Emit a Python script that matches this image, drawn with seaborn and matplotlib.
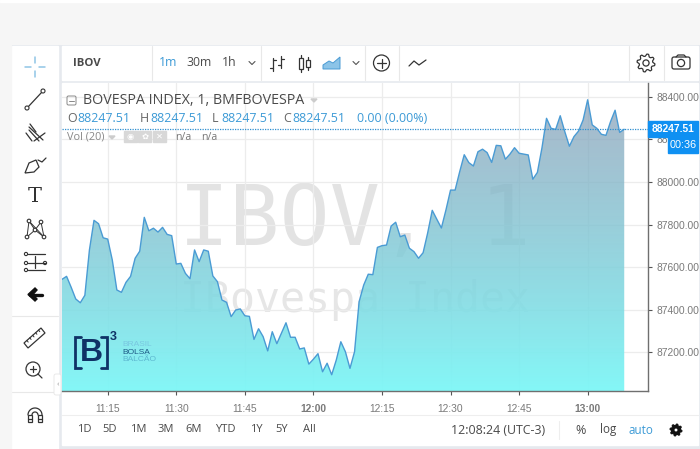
import numpy as np
import pandas as pd
import matplotlib
matplotlib.use("Agg")
import matplotlib.pyplot as plt
import matplotlib.dates as mdates
from matplotlib.patches import Rectangle, Circle, FancyBboxPatch, Polygon
import seaborn as sns

prices = [87543, 87557, 87506, 87451, 87433, 87468, 87681, 87820, 87804, 87738,
          87732, 87634, 87493, 87482, 87529, 87557, 87642, 87675, 87834, 87771,
          87783, 87765, 87787, 87754, 87748, 87615, 87618, 87571, 87546, 87681,
          87626, 87681, 87675, 87559, 87532, 87446, 87435, 87368, 87399, 87404,
          87372, 87369, 87261, 87311, 87274, 87207, 87297, 87241, 87290, 87339,
          87271, 87271, 87216, 87221, 87145, 87168, 87194, 87109, 87149, 87095,
          87164, 87250, 87203, 87125, 87203, 87438, 87516, 87567, 87565, 87693,
          87701, 87704, 87793, 87811, 87743, 87751, 87689, 87673, 87642, 87668,
          87761, 87867, 87825, 87784, 87869, 87962, 87962, 88048, 88128, 88091,
          88075, 88142, 88154, 88138, 88092, 88172, 88170, 88107, 88131, 88161,
          88135, 88131, 88127, 88013, 88045, 88160, 88299, 88252, 88247, 88311,
          88236, 88168, 88213, 88239, 88291, 88386, 88268, 88252, 88224, 88219,
          88283, 88337, 88233, 88247.51]
price_ticks = [87200, 87400, 87600, 87800, 88000, 88200, 88400]
time_ticks = ["11:15", "11:30", "11:45", "12:00", "12:15", "12:30", "12:45", "13:00"]
periods = ["1D", "5D", "1M", "3M", "6M", "YTD", "1Y", "5Y", "All"]

BLUE = "#3c9ad6"
DARK = "#4a4a4a"
GREY = "#7a7a7a"
GRID = "#ececec"
FONT = "Open Sans"

day = "2019-02-15 "
df = pd.DataFrame({"time": pd.date_range(day + "11:05", periods=len(prices), freq="min"),
                   "price": prices})

sns.set_style("white")
plt.rcParams["font.family"] = [FONT, "DejaVu Sans"]

W, H = 700, 449
fig = plt.figure(figsize=(W / 100, H / 100), dpi=100, facecolor="#f6f6f6")


def px_axes(z):
    a = fig.add_axes([0, 0, 1, 1], zorder=z)
    a.set_xlim(0, W)
    a.set_ylim(H, 0)
    a.axis("off")
    a.patch.set_alpha(0)
    return a


bg = px_axes(0)
ui = px_axes(3)

# panels behind the chart
bg.add_patch(Rectangle((0, 0), 700, 1.5, color="white"))
bg.add_patch(Rectangle((11, 45), 689, 404, fc="#e6e9ee", ec="none"))
bg.add_patch(Rectangle((12, 46), 46, 403, color="white"))
bg.add_patch(Rectangle((62, 46), 636, 34, color="white"))
bg.add_patch(Rectangle((62, 83), 636, 362, color="white"))
bg.add_patch(Rectangle((0, 45), 11, 404, color="#f6f6f6"))
for x in [152, 261, 365, 399, 629, 664]:
    bg.plot([x, x], [46, 80], color="#e8e8e8", lw=0.8)
for y in [316, 392]:
    bg.plot([12, 58], [y, y], color="#e8e8e8", lw=0.8)
bg.plot([62, 698], [415, 415], color="#eeeeee", lw=0.8)
bg.plot([559, 559], [421, 439], color="#eeeeee", lw=0.8)

# chart
ax = fig.add_axes([62 / W, 1 - 391 / H, 586 / W, 308 / H], zorder=1)
ax.patch.set_alpha(0)
t0 = pd.Timestamp(day + "11:05")
x_end = t0 + pd.Timedelta(minutes=128.2)
y_lo, y_hi = 87018.7, 88464.8

tick_times = pd.to_datetime([day + t for t in time_ticks])
ax.set_xticks(tick_times)
ax.set_xticklabels(time_ticks)
ax.set_yticks(price_ticks)
ax.set_yticklabels(["%.2f" % p for p in price_ticks])
ax.yaxis.tick_right()
ax.grid(True, color=GRID, lw=0.9)
ax.set_axisbelow(True)
ax.tick_params(axis="x", length=3, width=0.8, color="#555555", pad=6, labelsize=7.4, labelcolor=GREY, bottom=True)
ax.tick_params(axis="y", length=3, width=0.8, color="#555555", pad=3, labelsize=7.4, labelcolor=GREY, right=True)
for lab in ax.get_xticklabels() + ax.get_yticklabels():
    lab.set_fontfamily("Liberation Sans")
for lab in ax.get_xticklabels():
    if lab.get_text() in ("12:00", "13:00"):
        lab.set_fontweight("bold")
for s in ["top", "left"]:
    ax.spines[s].set_visible(False)
for s in ["bottom", "right"]:
    ax.spines[s].set_color("#6f6f6f")
    ax.spines[s].set_linewidth(1.0)

# watermarks sit under the area
ax.text(0.5, 0.474, "IBOV, 1", transform=ax.transAxes, ha="center", va="baseline", color="#e3e3e3",
        fontsize=60, family="DejaVu Sans Mono", zorder=0.5)
ax.text(0.5, 0.2565, "IBovespa Index", transform=ax.transAxes, ha="center", va="baseline", color="#e6e6e6",
        fontsize=30, family="DejaVu Sans Mono", zorder=0.5)

# gradient area
poly = ax.fill_between(df["time"], df["price"], y_lo, color="none", lw=0)
n = 256
grad = np.zeros((n, 1, 4))
mix = np.linspace(0, 1, n)[:, None, None]
grad[:, :, :3] = (1 - mix) * np.array([132, 155, 181]) / 255 + mix * np.array([125, 247, 247]) / 255
grad[:, :, 3] = (0.7 + 0.25 * mix)[:, :, 0]
xnum = mdates.date2num(df["time"])
img = ax.imshow(grad, aspect="auto", extent=[xnum[0], xnum[-1], y_lo, max(prices)], origin="upper", zorder=1.5)
img.set_clip_path(poly.get_paths()[0], transform=ax.transData)

sns.lineplot(data=df, x="time", y="price", ax=ax, color="#4a9bd4", lw=1.0, zorder=2)
ax.axhline(prices[-1], color="#2f8fd0", lw=0.9, ls=(0, (1, 1)), zorder=2.5)
ax.set_xlim(t0, x_end)
ax.set_ylim(y_lo, y_hi)
ax.set_xlabel("")
ax.set_ylabel("")

# legend rows
ui.add_patch(FancyBboxPatch((67, 96), 9, 9, boxstyle="round,pad=0,rounding_size=1.5", fc="none", ec="#888888", lw=0.7))
ui.plot([69, 74], [100.5, 100.5], color="#888888", lw=0.7)
ui.text(83, 100.5, "BOVESPA INDEX, 1, BMFBOVESPA", fontsize=10.3, color=DARK, va="center")
ui.add_patch(Polygon([[311, 99], [317, 99], [314, 102]], color="#cccccc"))
for x, lab, vx in [(67, "O", 77), (140, "H", 150), (212, "L", 221), (283, "C", 292)]:
    ui.text(x, 119, lab, fontsize=8.9, color="#666666", va="center")
    ui.text(vx, 119, "88247.51", fontsize=8.9, color=BLUE, va="center")
ui.text(357, 119, "0.00 (0.00%)", fontsize=9, color=BLUE, va="center", ha="left")
ui.text(67, 137, "Vol (20)", fontsize=7.8, color="#888888", va="center")
ui.add_patch(Polygon([[109, 136], [115, 136], [112, 139]], color="#cccccc"))
for x in [124, 138, 153]:
    ui.add_patch(Rectangle((x, 131), 13, 11, color="#d8d8d8"))
for x, g in [(130.5, "◉"), (145, "✿"), (159.5, "✕")]:
    ui.text(x, 136.5, g, fontsize=6, color="white", ha="center", va="center", family="DejaVu Sans")
ui.text(175, 137, "n/a", fontsize=7.6, color="#777777", va="center")
ui.text(201, 137, "n/a", fontsize=7.6, color="#777777", va="center")

# price and countdown labels
ui.add_patch(Rectangle((648, 121), 50, 15.5, color="#0f90f2"))
ui.text(673, 128.5, "88247.51", fontsize=7.4, color="white", weight="bold", ha="center", va="center", family="Liberation Sans")
ui.add_patch(Rectangle((668, 136.5), 30, 16.5, color="#0f90f2"))
ui.text(683, 145, "00:36", fontsize=7.8, color="white", ha="center", va="center", family="Liberation Sans")

# top toolbar
ui.text(73, 63, "IBOV", fontsize=8.2, color=DARK, weight="bold", va="center")
ui.text(168, 63, "1m", fontsize=8.8, color=BLUE, ha="center", va="center")
ui.text(199, 63, "30m", fontsize=8.8, color=DARK, ha="center", va="center")
ui.text(229, 63, "1h", fontsize=8.8, color=DARK, ha="center", va="center")


def chevron(x, y):
    ui.plot([x - 3, x, x + 3], [y - 1.5, y + 1.5, y - 1.5], color="#555555", lw=0.8)


chevron(252, 63)
chevron(356, 63)
ic = {"color": "#333333", "lw": 0.9}
# bars
for x, a, b in [(273, 58, 71), (281, 56, 68)]:
    ui.plot([x, x], [a, b], **ic)
ui.plot([270, 273], [68, 68], **ic)
ui.plot([273, 276], [60, 60], **ic)
ui.plot([278, 281], [65, 65], **ic)
ui.plot([281, 284], [59, 59], **ic)
# candles
ui.add_patch(Rectangle((299, 58), 4, 11, fc="white", ec="#333333", lw=0.9))
ui.add_patch(Rectangle((306, 60), 4, 7, fc="white", ec="#333333", lw=0.9))
ui.plot([301, 301], [55, 72], zorder=0, **ic)
ui.plot([308, 308], [57, 70], zorder=0, **ic)
# area
ui.add_patch(Polygon([[323, 69], [323, 65], [329, 61], [333, 63], [340, 57], [340, 69]], fc="#8cc4e8", ec="#4a9bd4", lw=0.7))
# indicators
ui.add_patch(Circle((381.5, 63), 8, fc="none", ec="#333333", lw=0.9))
ui.plot([377, 386], [63, 63], **ic)
ui.plot([381.5, 381.5], [58.5, 67.5], **ic)
ui.plot([409, 414, 419, 426], [66, 61, 65, 60], **ic)


# gear outline, eight teeth
def gear(x, y, r, lw, color="#333333", fill="none"):
    ang = np.linspace(0, 2 * np.pi, 32, endpoint=False) + np.pi / 32
    rad = np.where(np.arange(32) % 4 < 2, r, r * 0.76)
    ui.add_patch(Polygon(np.c_[x + rad * np.cos(ang), y + rad * np.sin(ang)], fc=fill, ec=color, lw=lw, joinstyle="round"))
    ui.add_patch(Circle((x, y), r * 0.34, fc="white" if fill != "none" else "none", ec=color, lw=lw))


gear(646, 63, 9, 0.9)
ui.add_patch(FancyBboxPatch((672, 57), 18, 12, boxstyle="round,pad=0,rounding_size=2", fc="none", ec="#333333", lw=0.9))
ui.add_patch(Circle((681, 63), 3.6, fc="none", ec="#333333", lw=0.9))
ui.plot([676, 678, 684, 686], [57, 55, 55, 57], **ic)

# left toolbar
ui.plot([25, 31], [67, 67], color="#8fc5e6", lw=1.1)
ui.plot([39, 45], [67, 67], color="#8fc5e6", lw=1.1)
ui.plot([35, 35], [57, 63], color="#8fc5e6", lw=1.1)
ui.plot([35, 35], [71, 77], color="#8fc5e6", lw=1.1)
ui.plot([28, 42], [107, 92], **ic)
for cx, cy in [(27, 108), (43, 91)]:
    ui.add_patch(Circle((cx, cy), 2, fc="white", ec="#333333", lw=0.8, zorder=4))
# fork
for a, b, c, d in [(29, 127, 43, 140), (26, 133, 32, 141), (30, 124, 36, 132), (34, 141, 45, 133)]:
    ui.plot([a, c], [b, d], **ic)
ui.plot([29, 39], [130, 141], **ic)
# brush
ui.add_patch(Polygon([[25, 173], [29, 163], [36, 160], [39, 167], [34, 172]], fc="none", ec="#333333", lw=0.9))
ui.plot([38, 42, 46], [160, 162, 158], **ic)
ui.text(35, 197, "T", fontsize=15, color="#333333", ha="center", va="center", family="DejaVu Serif")
# pattern
pts = [(29, 221), (41, 222), (35, 230), (27, 237), (44, 237)]
for i in range(len(pts)):
    for j in range(i + 1, len(pts)):
        if (i, j) not in [(0, 1), (3, 4), (1, 3)]:
            ui.plot([pts[i][0], pts[j][0]], [pts[i][1], pts[j][1]], color="#333333", lw=0.7)
for p in pts:
    ui.add_patch(Circle(p, 1.8, fc="white", ec="#333333", lw=0.8, zorder=4))
# position
for y, a in [(254, 26), (263, 26), (270, 26)]:
    ui.plot([a + 2, 45], [y, y], **ic)
    ui.add_patch(Circle((a, y), 1.6, fc="white", ec="#333333", lw=0.8))
ui.add_patch(Circle((45, 263), 1.6, fc="white", ec="#333333", lw=0.8))
ui.plot([35, 35], [256, 268], **ic)
# back arrow
ui.plot([30, 42], [294.5, 294.5], color="#111111", lw=2.4)
ui.add_patch(Polygon([[28, 294.5], [35, 288], [37, 290], [33, 294.5], [37, 299], [35, 301]], color="#111111"))
# ruler
ui.add_patch(Polygon([[24, 343], [41, 328], [45, 333], [28, 348]], fc="white", ec="#333333", lw=0.9))
for k in range(1, 6):
    xr = 24 + k * 2.9
    yr = 343 - k * 2.6
    ui.plot([xr, xr + 1.3], [yr, yr + 1.7], color="#333333", lw=0.7)
# zoom
ui.add_patch(Circle((33, 369), 7, fc="none", ec="#333333", lw=0.9))
ui.plot([38, 42], [374, 378], **ic)
ui.plot([30, 36], [369, 369], **ic)
ui.plot([33, 33], [366, 372], **ic)
# magnet
t = np.linspace(np.pi, 2 * np.pi, 30)
ui.plot(35 + 7 * np.cos(t), 415 + 7 * np.sin(t), **ic)
ui.plot(35 + 3 * np.cos(t), 415 + 3 * np.sin(t), **ic)
for a, b in [(28, 32), (38, 42)]:
    ui.add_patch(Rectangle((a, 415), b - a, 7, fc="none", ec="#333333", lw=0.9))
    ui.plot([a, b], [419, 419], **ic)
# collapse tab
ui.add_patch(FancyBboxPatch((54, 374), 7, 21, boxstyle="round,pad=0,rounding_size=2", fc="white", ec="#e6e6e6", lw=0.6))
ui.text(57.5, 384.5, "‹", fontsize=6, color="#999999", ha="center", va="center")

# exchange logo
navy = "#0f3266"
ui.plot([81, 75, 75, 81], [337, 337, 368, 368], color=navy, lw=2, solid_joinstyle="miter")
ui.plot([101, 107, 107, 101], [337, 337, 368, 368], color=navy, lw=2, solid_joinstyle="miter")
ui.text(91, 353, "B", fontsize=23, color=navy, weight="bold", ha="center", va="center", family="Liberation Sans")
ui.text(113, 337, "3", fontsize=9, color=navy, weight="bold", ha="center", va="center", family="Liberation Sans")
for y, word, col in [(345, "BRASIL", "#79c7e0"), (352.5, "BOLSA", "#1d5a86"), (359.5, "BALCÃO", "#5db8d0")]:
    ui.text(122, y, word, fontsize=6, color=col, va="center", family="Liberation Sans")

# bottom toolbar
for x, lab in zip([84, 110, 138, 166, 194, 225, 256, 282, 309], periods):
    ui.text(x, 430, lab, fontsize=8, color=DARK, ha="center", va="center")
ui.text(498, 430, "12:08:24 (UTC-3)", fontsize=8.9, color=DARK, ha="center", va="center")
ui.text(581, 430, "%", fontsize=9, color=DARK, ha="center", va="center")
ui.text(608, 430, "log", fontsize=8.4, color=DARK, ha="center", va="center")
ui.text(641, 430, "auto", fontsize=8.4, color=BLUE, ha="center", va="center")
gear(676, 430, 6, 0.8, color="#111111", fill="#111111")

fig.savefig("out.png", dpi=100, facecolor=fig.get_facecolor())
